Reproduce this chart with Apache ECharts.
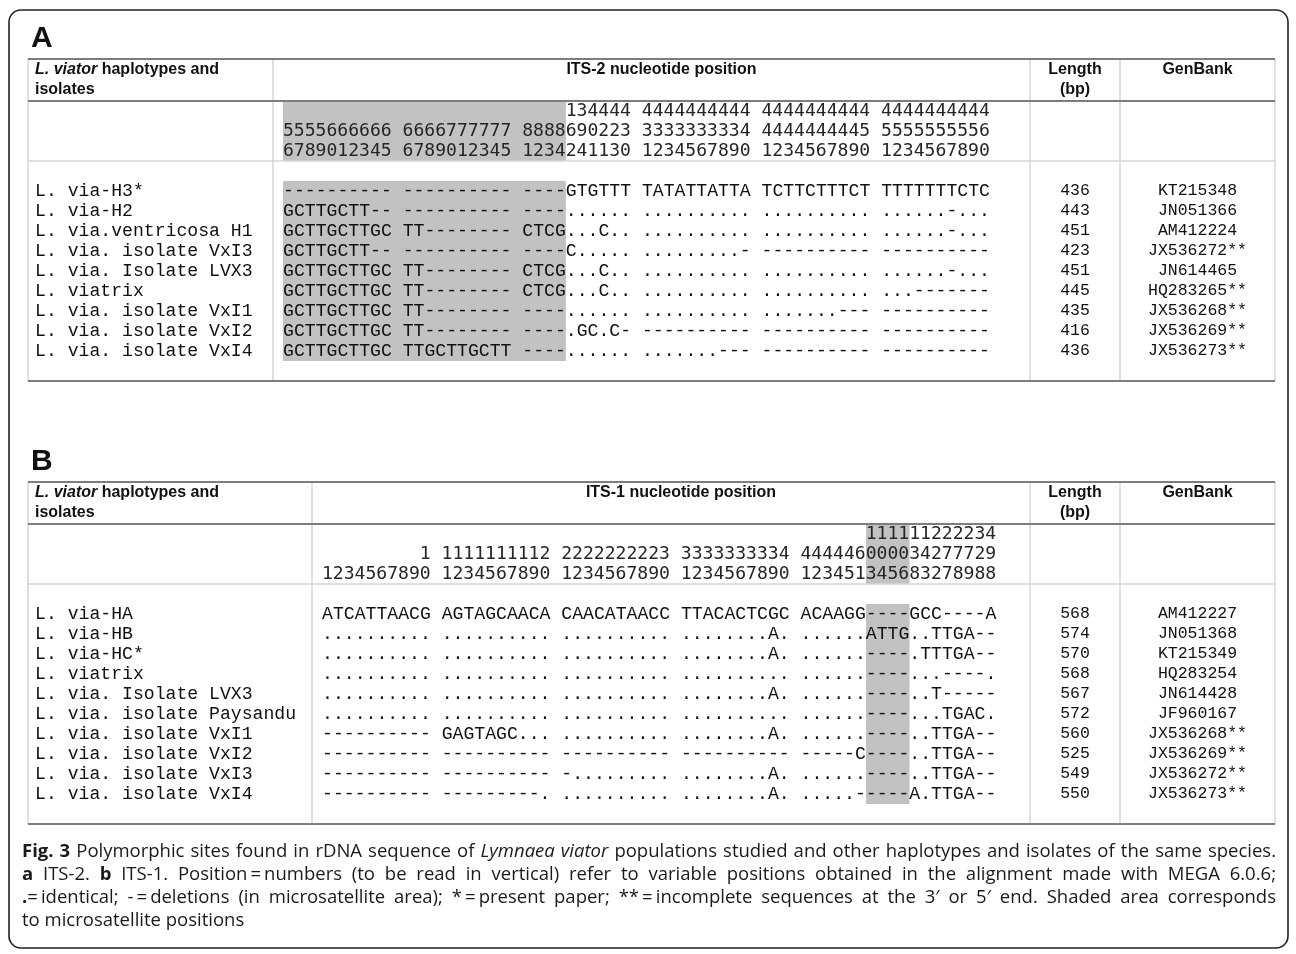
<!DOCTYPE html>
<html><head><meta charset="utf-8">
<script src="https://cdn.jsdelivr.net/npm/echarts@6/dist/echarts.min.js"></script>
<style>html,body{margin:0;padding:0;background:#fff}#c{width:1296px;height:954px}</style>
</head><body><div id="c"></div>
<script>
// ---------------- DATA ----------------
// Table A : ITS-2
const posHeaderA = [
  "                          134444 4444444444 4444444444 4444444444",
  "5555666666 6666777777 8888690223 3333333334 4444444445 5555555556",
  "6789012345 6789012345 1234241130 1234567890 1234567890 1234567890"
];
const namesA = ["L. via-H3*", "L. via-H2", "L. via.ventricosa H1", "L. via. isolate VxI3", "L. via. Isolate LVX3",
  "L. viatrix", "L. via. isolate VxI1", "L. via. isolate VxI2", "L. via. isolate VxI4"];
const seqA = [
  "---------- ---------- ----GTGTTT TATATTATTA TCTTCTTTCT TTTTTTTCTC",
  "GCTTGCTT-- ---------- ----...... .......... .......... ......-...",
  "GCTTGCTTGC TT-------- CTCG...C.. .......... .......... ......-...",
  "GCTTGCTT-- ---------- ----C..... .........- ---------- ----------",
  "GCTTGCTTGC TT-------- CTCG...C.. .......... .......... ......-...",
  "GCTTGCTTGC TT-------- CTCG...C.. .......... .......... ...-------",
  "GCTTGCTTGC TT-------- ----...... .......... .......--- ----------",
  "GCTTGCTTGC TT-------- ----.GC.C- ---------- ---------- ----------",
  "GCTTGCTTGC TTGCTTGCTT ----...... .......--- ---------- ----------"
];
const lengthA = [436, 443, 451, 423, 451, 445, 435, 416, 436];
const genbankA = ["KT215348", "JN051366", "AM412224", "JX536272**", "JN614465", "HQ283265**", "JX536268**", "JX536269**", "JX536273**"];
const shadeColsA = [0, 26];   // microsatellite columns (character span)

// Table B : ITS-1
const posHeaderB = [
  "                                                  111111222234",
  "         1 1111111112 2222222223 3333333334 444446000034277729",
  "1234567890 1234567890 1234567890 1234567890 123451345683278988"
];
const namesB = ["L. via-HA", "L. via-HB", "L. via-HC*", "L. viatrix", "L. via. Isolate LVX3", "L. via. isolate Paysandu",
  "L. via. isolate VxI1", "L. via. isolate VxI2", "L. via. isolate VxI3", "L. via. isolate VxI4"];
const seqB = [
  "ATCATTAACG AGTAGCAACA CAACATAACC TTACACTCGC ACAAGG----GCC----A",
  ".......... .......... .......... ........A. ......ATTG..TTGA--",
  ".......... .......... .......... ........A. ......----.TTTGA--",
  ".......... .......... .......... .......... ......----...----.",
  ".......... .......... .......... ........A. ......----..T-----",
  ".......... .......... .......... .......... ......----...TGAC.",
  "---------- GAGTAGC... .......... ........A. ......----..TTGA--",
  "---------- ---------- ---------- ---------- -----C----..TTGA--",
  "---------- ---------- -......... ........A. ......----..TTGA--",
  "---------- ---------. .......... ........A. .....-----A.TTGA--"
];
const lengthB = [568, 574, 570, 568, 567, 572, 560, 525, 549, 550];
const genbankB = ["AM412227", "JN051368", "KT215349", "HQ283254", "JN614428", "JF960167", "JX536268**", "JX536269**", "JX536272**", "JX536273**"];
const shadeColsB = [50, 54];

const captionLines = [
  [{t: "Fig. 3", w: "bold"}, {t: " Polymorphic sites found in rDNA sequence of "}, {t: "Lymnaea viator", s: "italic"},
   {t: " populations studied and other haplotypes and isolates of the same species."}],
  [{t: "a", w: "bold"}, {t: " ITS-2. "}, {t: "b", w: "bold"},
   {t: " ITS-1. Position\u2009=\u2009numbers (to be read in vertical) refer to variable positions obtained in the alignment made with MEGA 6.0.6;"}],
  [{t: ".", w: "bold"}, {t: "=\u2009identical; -\u2009=\u2009deletions (in microsatellite area); *\u2009=\u2009present paper; **\u2009=\u2009incomplete sequences at the 3\u2032 or 5\u2032 end. Shaded area corresponds"}],
  [{t: "to microsatellite positions"}]
];

// ---------------- LAYOUT ----------------
const CW = 10.88;            // monospace character advance
const BAND = 20;             // row height
const HEAD_H = 42;           // column-title header height
const T_LEFT = 28, T_RIGHT = 1275, DIV_LEN = 1030, DIV_GEN = 1120;
const MONO = "Liberation Mono", NUMMONO = "DejaVu Sans Mono", SANS = "Liberation Sans";
const monoSize = CW / 0.6001, numSize = CW / 0.602;
const LINE_DARK = "#7d7d7d", LINE_LIGHT = "#d6d6d6", SHADE = "#c2c2c2", INK = "#111111";

const tables = [
  {letter: "A", title: "ITS-2 nucleotide position", top: 59, divName: 273, seqLeft: 283,
   header: posHeaderA, names: namesA, seq: seqA, len: lengthA, gen: genbankA, shade: shadeColsA},
  {letter: "B", title: "ITS-1 nucleotide position", top: 482, divName: 312, seqLeft: 322,
   header: posHeaderB, names: namesB, seq: seqB, len: lengthB, gen: genbankB, shade: shadeColsB}
];

const grid = [], xAxis = [], yAxis = [], series = [], graphic = [];

function textSeries(ax, rows, texts, family, size, color, align) {
  return {
    type: "custom", xAxisIndex: ax, yAxisIndex: ax, z: 5, silent: true,
    data: rows.map(r => [0, r]),
    renderItem: (params, api) => {
      const p = api.coord([api.value(0), api.value(1)]);
      return {type: "text", x: p[0], y: p[1],
        style: {text: String(texts[params.dataIndex]), fill: color, fontFamily: family, fontSize: size,
          align: align, verticalAlign: "middle"}};
    }
  };
}

tables.forEach((tb, t) => {
  const nData = tb.names.length;
  const nBands = 3 + 1 + nData + 1;
  const nChars = tb.seq[0].length;
  const H = tb.top + HEAD_H;
  const bottom = H + nBands * BAND;
  const cats = Array.from({length: nBands}, (_, i) => String(i));
  const dataRows = tb.names.map((_, i) => i + 4);
  const gi = t * 3;

  const gCommon = {top: H, height: nBands * BAND, outerBoundsMode: "none", containLabel: false};
  grid.push(Object.assign({left: tb.seqLeft, width: nChars * CW}, gCommon));
  grid.push(Object.assign({left: DIV_LEN, width: DIV_GEN - DIV_LEN}, gCommon));
  grid.push(Object.assign({left: DIV_GEN, width: T_RIGHT - DIV_GEN}, gCommon));

  xAxis.push({gridIndex: gi, type: "value", min: 0, max: nChars, show: false});
  xAxis.push({gridIndex: gi + 1, type: "category", data: [""], show: false});
  xAxis.push({gridIndex: gi + 2, type: "category", data: [""], show: false});

  yAxis.push({gridIndex: gi, type: "category", data: cats, inverse: true,
    axisLine: {show: false}, axisTick: {show: false}, splitLine: {show: false},
    axisLabel: {interval: 0, align: "left", margin: tb.seqLeft - 35, fontFamily: MONO, fontSize: monoSize, color: INK,
      formatter: (v, i) => (i >= 4 && i - 4 < nData) ? tb.names[i - 4] : ""}});
  yAxis.push({gridIndex: gi + 1, type: "category", data: cats, inverse: true, show: false});
  yAxis.push({gridIndex: gi + 2, type: "category", data: cats, inverse: true, show: false});

  series.push({
    type: "custom", xAxisIndex: gi, yAxisIndex: gi, z: 1, silent: true,
    encode: {x: [0, 1], y: [2, 3]},
    data: [[tb.shade[0], tb.shade[1], 0, 2], [tb.shade[0], tb.shade[1], 4, 3 + nData]],
    renderItem: (params, api) => {
      const a = api.coord([api.value(0), api.value(2)]);
      const b = api.coord([api.value(1), api.value(3)]);
      const h = api.size([0, 1])[1];
      return {type: "rect", shape: {x: a[0], y: a[1] - h / 2, width: b[0] - a[0], height: b[1] - a[1] + h},
        style: {fill: SHADE}};
    }
  });
  series.push(textSeries(gi, [0, 1, 2], tb.header, NUMMONO, numSize, "#262626", "left"));
  series.push(textSeries(gi, dataRows, tb.seq, MONO, monoSize, INK, "left"));
  series.push(textSeries(gi + 1, dataRows, tb.len, MONO, 16.5, INK, "center"));
  series.push(textSeries(gi + 2, dataRows, tb.gen, MONO, 16.5, INK, "center"));

  const hl = (y, color, w) => graphic.push({type: "line", silent: true, z: 10,
    shape: {x1: T_LEFT, y1: y, x2: T_RIGHT, y2: y}, style: {stroke: color, lineWidth: w}});
  const vl = x => graphic.push({type: "line", silent: true, z: 9,
    shape: {x1: x, y1: tb.top, x2: x, y2: bottom}, style: {stroke: LINE_LIGHT, lineWidth: 1.5}});
  [T_LEFT, tb.divName, DIV_LEN, DIV_GEN, T_RIGHT].forEach(vl);
  hl(tb.top, LINE_DARK, 2);
  hl(H, LINE_DARK, 2);
  hl(H + 3 * BAND, LINE_LIGHT, 1.5);
  hl(bottom, LINE_DARK, 2);

  graphic.push({type: "text", x: 31, y: tb.top - 20, silent: true,
    style: {text: tb.letter, fontFamily: SANS, fontWeight: "bold", fontSize: 30, fill: "#111", verticalAlign: "middle"}});
  graphic.push({type: "text", x: 35, y: tb.top + 1, silent: true,
    style: {text: "{i|L. viator} haplotypes and\nisolates", fontFamily: SANS, fontWeight: "bold", fontSize: 16,
      lineHeight: 20, fill: "#111", verticalAlign: "top",
      rich: {i: {fontFamily: SANS, fontWeight: "bold", fontStyle: "italic", fontSize: 16, lineHeight: 20, fill: "#111"}}}});
  graphic.push({type: "text", x: (tb.divName + DIV_LEN) / 2 + 10, y: tb.top + 1, silent: true,
    style: {text: tb.title, fontFamily: SANS, fontWeight: "bold", fontSize: 16, lineHeight: 20, fill: "#111",
      align: "center", verticalAlign: "top"}});
  graphic.push({type: "text", x: (DIV_LEN + DIV_GEN) / 2, y: tb.top + 1, silent: true,
    style: {text: "Length\n(bp)", fontFamily: SANS, fontWeight: "bold", fontSize: 16, lineHeight: 20, fill: "#111",
      align: "center", verticalAlign: "top"}});
  graphic.push({type: "text", x: (DIV_GEN + T_RIGHT) / 2, y: tb.top + 1, silent: true,
    style: {text: "GenBank", fontFamily: SANS, fontWeight: "bold", fontSize: 16, lineHeight: 20, fill: "#111",
      align: "center", verticalAlign: "top"}});
});

graphic.push({type: "rect", silent: true, z: 20, shape: {x: 9, y: 10, width: 1279, height: 938, r: 12},
  style: {fill: "none", stroke: "#222", lineWidth: 1.6}});

// caption, justified
(function () {
  const CAP_L = 22, CAP_R = 1276, CAP_Y0 = 852, CAP_DY = 23, CAP_FONT = "Open Sans";
  const ctx = document.createElement("canvas").getContext("2d");
  let capSize = 16;
  const fontStr = p => `${p.s || "normal"} ${p.w || "normal"} ${capSize}px "${CAP_FONT}"`;
  const meas = p => { ctx.font = fontStr(p); return ctx.measureText(p.t).width; };
  // size the caption so the first line sets with natural spacing across ~1240 px
  const natural = captionLines[0].reduce((s, p) => s + meas(p), 0);
  capSize = Math.min(18.5, Math.max(15, 16 * 1236 / natural));
  captionLines.forEach((line, li) => {
    const words = [];
    let cur = null, lastEndsSpace = true;
    line.forEach(seg => {
      const parts = seg.t.split(" ");
      parts.forEach((pt, k) => {
        if (k > 0 || lastEndsSpace) { if (cur && cur.length) words.push(cur); cur = []; }
        if (pt.length) cur.push({t: pt, w: seg.w, s: seg.s});
      });
      lastEndsSpace = seg.t.endsWith(" ");
    });
    if (cur && cur.length) words.push(cur);
    const widths = words.map(wd => wd.reduce((s, p) => s + meas(p), 0));
    const total = widths.reduce((a, b) => a + b, 0);
    const justify = li < captionLines.length - 1;
    const gap = justify ? (CAP_R - CAP_L - total) / (words.length - 1) : meas({t: " "});
    let x = CAP_L;
    const y = CAP_Y0 + li * CAP_DY;
    words.forEach((wd, wi) => {
      let px = x;
      wd.forEach(p => {
        graphic.push({type: "text", x: px, y: y, silent: true,
          style: {text: p.t, fontFamily: CAP_FONT, fontSize: capSize, fontWeight: p.w || "normal",
            fontStyle: p.s || "normal", fill: "#1a1a1a", verticalAlign: "middle", align: "left"}});
        px += meas(p);
      });
      x += widths[wi] + gap;
    });
  });
})();

const chart = echarts.init(document.getElementById("c"), null, {renderer: "canvas"});
chart.setOption({
  backgroundColor: "#ffffff",
  animation: false,
  grid: grid, xAxis: xAxis, yAxis: yAxis, series: series, graphic: graphic
});
</script></body></html>
